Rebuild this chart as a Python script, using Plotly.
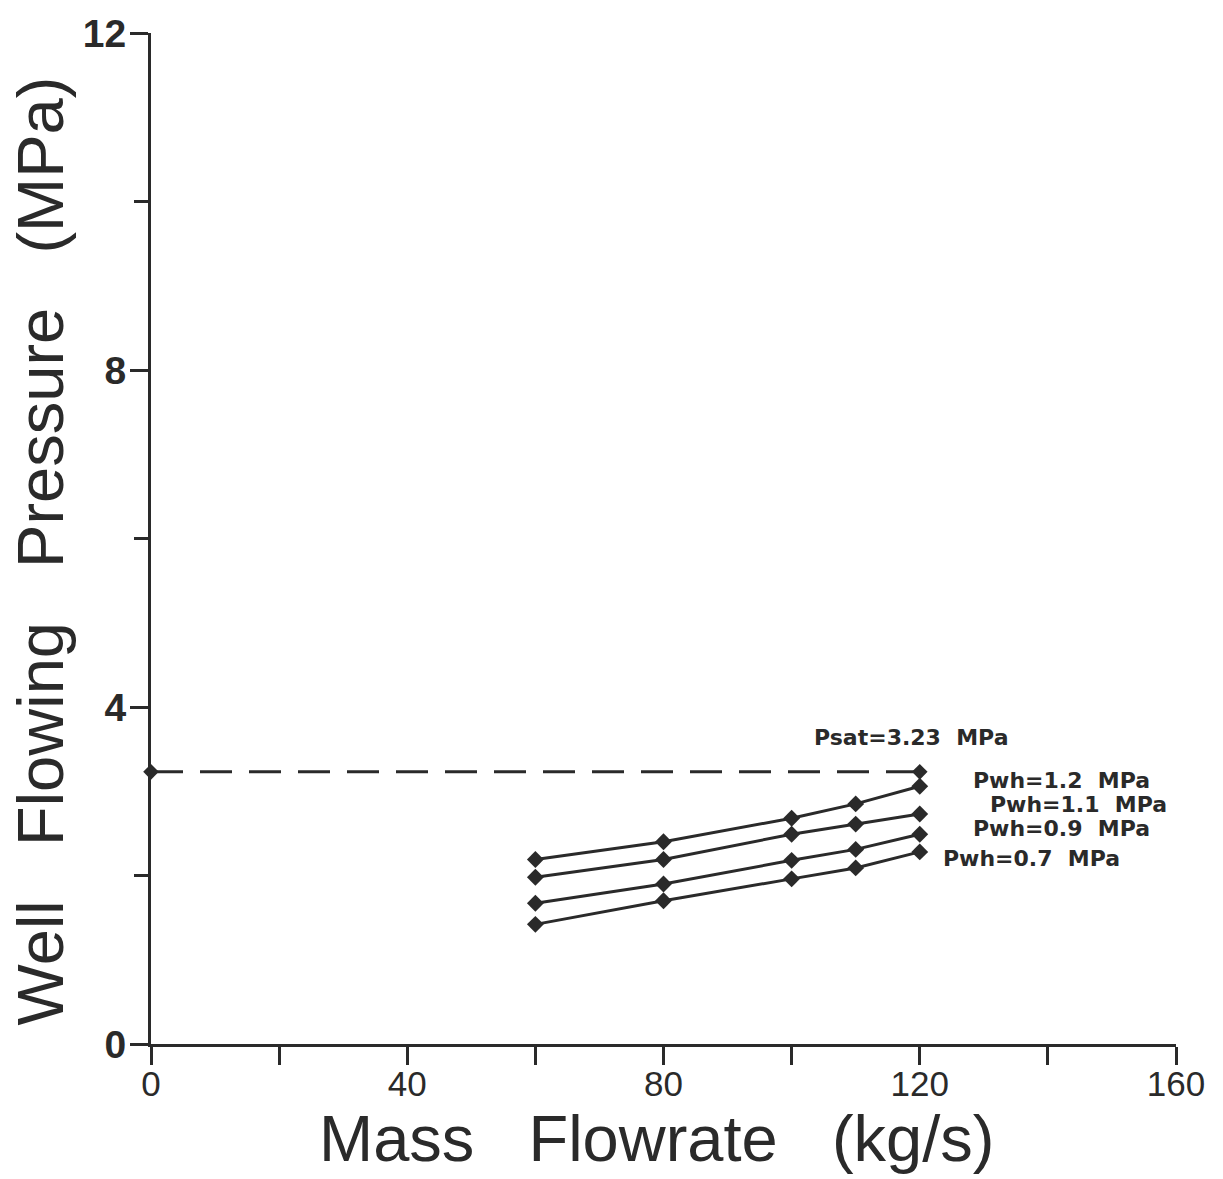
import plotly.graph_objects as go

# Mass flowrate (kg/s) at which the wellbore model was evaluated
flowrate = [60, 80, 100, 110, 120]

# Bottom-hole flowing pressure (MPa) for each wellhead pressure
pwh_12 = [2.19, 2.40, 2.68, 2.85, 3.06]
pwh_11 = [1.98, 2.19, 2.49, 2.61, 2.73]
pwh_09 = [1.67, 1.90, 2.18, 2.31, 2.49]
pwh_07 = [1.42, 1.70, 1.96, 2.09, 2.28]

series_labels = ["Pwh=1.2  MPa", "Pwh=1.1  MPa", "Pwh=0.9  MPa", "Pwh=0.7  MPa"]

# Saturation pressure reference line
psat = 3.23
psat_x = [0, 120]
psat_label = "Psat=3.23  MPa"

x_ticks = [0, 20, 40, 60, 80, 100, 120, 140, 160]
x_ticktext = ["0", "", "40", "", "80", "", "120", "", "160"]
y_ticks = [0, 4, 8, 12]

INK = "#2a2a2a"
W, H = 1223, 1179
L, R, T, B = 151, 47, 28, 135

fig = go.Figure()

fig.add_trace(go.Scatter(
    x=psat_x, y=[psat, psat], mode="lines+markers",
    line=dict(color=INK, width=3, dash="32px,17px"),
    marker=dict(symbol="diamond", size=12, color=INK),
    cliponaxis=False, showlegend=False, hoverinfo="skip",
))

all_series = [pwh_12, pwh_11, pwh_09, pwh_07]
for ys in all_series:
    fig.add_trace(go.Scatter(
        x=flowrate, y=ys, mode="lines+markers",
        line=dict(color=INK, width=3),
        marker=dict(symbol="diamond", size=13, color=INK),
        cliponaxis=False, showlegend=False,
    ))

label_font = dict(family="DejaVu Sans", size=22, color=INK, weight="bold")

def nb(s):
    return s.replace("  ", "\u00a0\u00a0")

# Curve labels, anchored at each curve's last point
offsets = [(51, 6), (68, 10), (51, 6), (21, -7)]
for ys, txt, (dx, dy) in zip(all_series, series_labels, offsets):
    fig.add_annotation(
        x=flowrate[-1], y=ys[-1], text=nb(txt), showarrow=False,
        xanchor="left", yanchor="middle", xshift=dx, yshift=dy,
        font=label_font,
    )

fig.add_annotation(
    x=psat_x[-1], y=psat, text=nb(psat_label), showarrow=False,
    xanchor="center", yanchor="middle", xshift=-8, yshift=34,
    font=label_font,
)

pw = W - L - R
ph = H - T - B
title_font = dict(family="Liberation Sans", size=65, color=INK)

fig.add_annotation(
    xref="paper", yref="paper",
    x=(656 - L) / pw, y=(H - B - 1139) / ph,
    text="Mass\u00a0\u00a0\u00a0Flowrate\u00a0\u00a0\u00a0(kg/s)",
    showarrow=False, xanchor="center", yanchor="middle", font=title_font,
)
fig.add_annotation(
    xref="paper", yref="paper",
    x=(40 - L) / pw, y=(H - B - 549) / ph,
    text="Well\u00a0\u00a0\u00a0Flowing\u00a0\u00a0\u00a0Pressure\u00a0\u00a0\u00a0(MPa)",
    textangle=-90,
    showarrow=False, xanchor="center", yanchor="middle", font=title_font,
)

fig.update_xaxes(
    range=[0, 160], tickvals=x_ticks, ticktext=x_ticktext,
    ticks="outside", ticklen=18, tickwidth=3, tickcolor=INK,
    ticklabelstandoff=-11,
    showline=True, linewidth=3, linecolor=INK,
    showgrid=False, zeroline=False,
    tickfont=dict(family="Liberation Sans", size=35, color=INK),
)
fig.update_yaxes(
    range=[0, 12], tickvals=y_ticks,
    ticks="outside", ticklen=18, tickwidth=3, tickcolor=INK,
    ticklabelstandoff=-4,
    minor=dict(tickvals=[2, 6, 10], ticks="outside", ticklen=14,
               tickwidth=3, tickcolor=INK),
    showline=True, linewidth=3, linecolor=INK,
    showgrid=False, zeroline=False,
    tickfont=dict(family="Liberation Sans", size=39, color=INK, weight="bold"),
)

fig.update_layout(
    width=W, height=H,
    margin=dict(l=L, r=R, t=T, b=B),
    paper_bgcolor="white", plot_bgcolor="white",
    showlegend=False,
)

fig.write_html("out.html")
